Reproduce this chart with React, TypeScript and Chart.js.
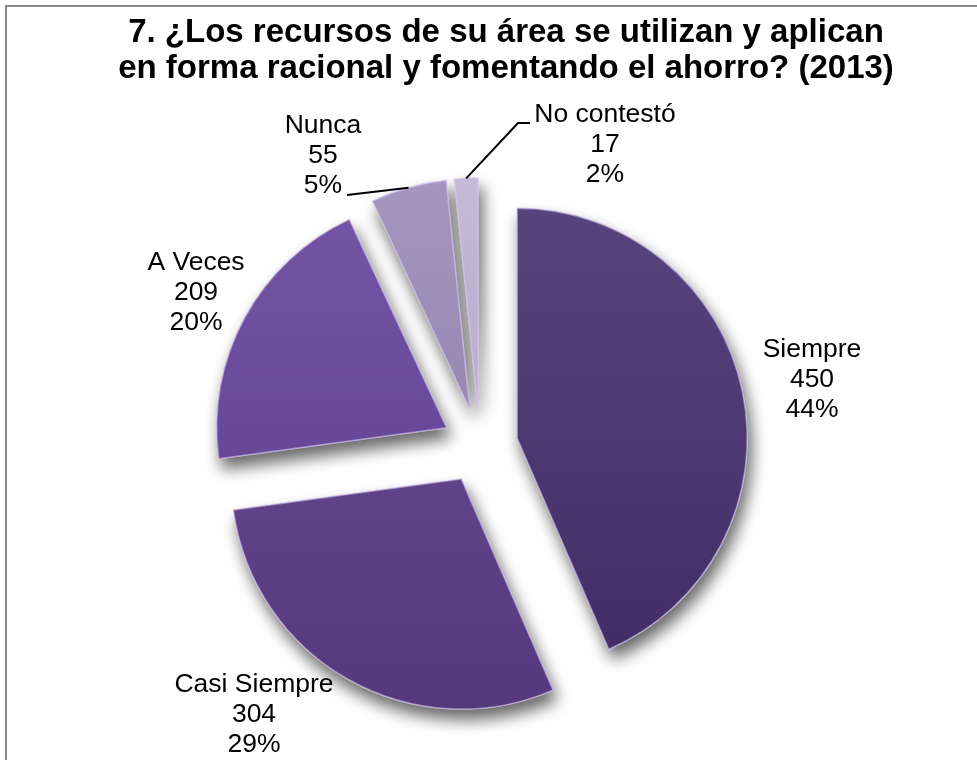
import React, { useEffect, useRef } from "react";
import { Chart, registerables } from "chart.js";

Chart.register(...registerables);

// ---- data ----
const TITLE_LINES = [
  "7. ¿Los recursos de su área se utilizan y aplican",
  "en forma racional y fomentando el ahorro? (2013)",
];
const categories = ["Siempre", "Casi Siempre", "A Veces", "Nunca", "No contestó"];
const counts = [450, 304, 209, 55, 17];
const percentLabels = ["44%", "29%", "20%", "5%", "2%"];

// ---- styles / layout ----
const SLICE_TOP = ["#58447c", "#6a4d91", "#7455a4", "#a496be", "#c4bbd7"];
const SLICE_BOTTOM = ["#422c67", "#55387e", "#5f3c90", "#8a7aa8", "#a79bc1"];
const PIE_RADIUS = 230;
const EXPLODE = 38;
const FONT = '"Liberation Sans", Arial, sans-serif';
const LABEL_FONT_SIZE = 26.5;
const LABEL_LINE = 30;
// label block centre relative to pie centre
const LABEL_OFFSETS = [
  [332, -68],
  [-226, 267],
  [-284, -155],
  [-157, -292],
  [125, -303],
];
// leader-line points relative to label centre (line starts at slice's outer midpoint)
const LEADERS: (number[][] | null)[] = [null, null, null, [[24, 41]], [[-87, -20], [-75, -20]]];

const framePlugin = {
  id: "frame",
  beforeDraw(chart: any) {
    const c = chart.ctx;
    c.save();
    c.fillStyle = "#ffffff";
    c.fillRect(0, 0, chart.width, chart.height);
    c.strokeStyle = "#8a8a8a";
    c.lineWidth = 2;
    c.beginPath();
    c.moveTo(6, chart.height + 5);
    c.lineTo(6, 6);
    c.lineTo(chart.width + 5, 6);
    c.stroke();
    c.restore();
  },
};

const titlePlugin = {
  id: "customTitle",
  afterDraw(chart: any) {
    const c = chart.ctx;
    c.save();
    c.fillStyle = "#000000";
    c.font = `bold 33px ${FONT}`;
    c.textAlign = "center";
    c.textBaseline = "alphabetic";
    c.fillText(TITLE_LINES[0], 506, 42);
    c.fillText(TITLE_LINES[1], 506, 78);
    c.restore();
  },
};

const explodePlugin = {
  id: "explode",
  beforeDatasetDraw(chart: any, args: any) {
    const c = chart.ctx;
    const arcs = args.meta.data;
    // pass 0: with drop shadow, pass 1: clean redraw on top
    for (let pass = 0; pass < 2; pass++) {
      arcs.forEach((arc: any) => {
        const mid = (arc.startAngle + arc.endAngle) / 2;
        c.save();
        if (pass === 0) {
          c.shadowColor = "rgba(0,0,0,0.6)";
          c.shadowBlur = 16;
          c.shadowOffsetX = 4;
          c.shadowOffsetY = 10;
        }
        c.translate(Math.cos(mid) * EXPLODE, Math.sin(mid) * EXPLODE);
        arc.draw(c);
        c.restore();
      });
    }
    return false;
  },
};

const labelPlugin = {
  id: "sliceLabels",
  afterDatasetsDraw(chart: any) {
    const c = chart.ctx;
    const meta = chart.getDatasetMeta(0);
    c.save();
    c.font = `${LABEL_FONT_SIZE}px ${FONT}`;
    c.fillStyle = "#000000";
    c.textAlign = "center";
    c.textBaseline = "alphabetic";
    meta.data.forEach((arc: any, i: number) => {
      const lx = arc.x + LABEL_OFFSETS[i][0];
      const ly = arc.y + LABEL_OFFSETS[i][1];
      const lines = [categories[i], String(counts[i]), percentLabels[i]];
      lines.forEach((t, k) => {
        c.fillText(t, lx, ly + (k - 1) * LABEL_LINE + 9);
      });
      const leader = LEADERS[i];
      if (leader) {
        const mid = (arc.startAngle + arc.endAngle) / 2;
        const r = arc.outerRadius + EXPLODE;
        c.beginPath();
        c.strokeStyle = "#000000";
        c.lineWidth = 2;
        c.moveTo(arc.x + Math.cos(mid) * r, arc.y + Math.sin(mid) * r);
        leader.forEach((p) => c.lineTo(lx + p[0], ly + p[1]));
        c.stroke();
      }
    });
    c.restore();
  },
};

export default function App() {
  const ref = useRef<HTMLCanvasElement | null>(null);

  useEffect(() => {
    if (!ref.current) return;
    const chart = new Chart(ref.current, {
      type: "pie",
      data: {
        labels: categories,
        datasets: [
          {
            data: counts,
            backgroundColor: (ctx: any) => {
              const i = ctx.dataIndex;
              const area = ctx.chart.chartArea;
              if (!area || i === undefined) return SLICE_TOP[i || 0];
              const cy = (area.top + area.bottom) / 2;
              const g = ctx.chart.ctx.createLinearGradient(0, cy - PIE_RADIUS, 0, cy + PIE_RADIUS);
              g.addColorStop(0, SLICE_TOP[i]);
              g.addColorStop(1, SLICE_BOTTOM[i]);
              return g;
            },
            borderColor: "rgba(215,200,240,0.55)",
            borderWidth: 1.5,
          },
        ],
      },
      options: {
        responsive: false,
        animation: false,
        radius: PIE_RADIUS,
        layout: { padding: { top: 132, left: 0, right: 17, bottom: 0 } },
        plugins: {
          legend: { display: false },
          tooltip: { enabled: false },
          title: { display: false },
        },
      } as any,
      plugins: [framePlugin, explodePlugin, labelPlugin, titlePlugin],
    });
    return () => chart.destroy();
  }, []);

  return (
    <div style={{ position: "absolute", left: 0, top: 0, width: 977, height: 760, overflow: "hidden" }}>
      <canvas ref={ref} width={977} height={760} style={{ display: "block", width: 977, height: 760 }} />
    </div>
  );
}
